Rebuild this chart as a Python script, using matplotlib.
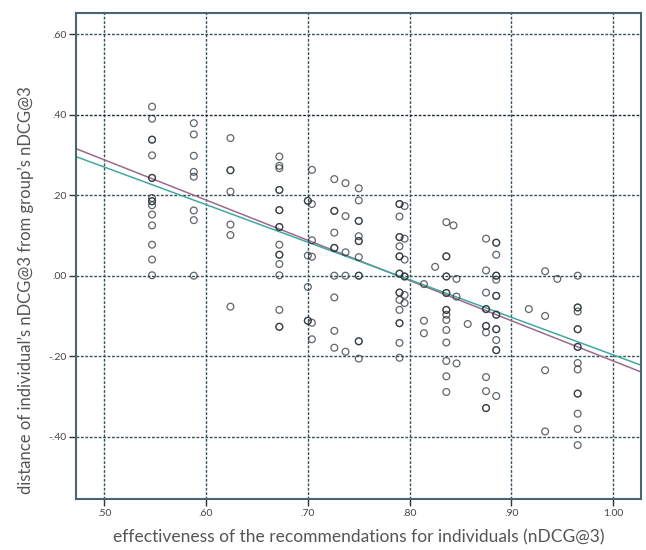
import matplotlib
matplotlib.use('Agg')
import matplotlib.pyplot as plt
import numpy as np

#-- Data: effectiveness (x) and distance from group's nDCG@3 (y), per x column
columns = {
    0.547: [0.420, 0.390, 0.338, 0.338, 0.299, 0.243, 0.243, 0.193, 0.185, 0.185,
            0.175, 0.152, 0.125, 0.077, 0.040, 0.001],
    0.588: [0.379, 0.351, 0.298, 0.258, 0.246, 0.162, 0.138, 0.000],
    0.624: [0.342, 0.262, 0.262, 0.209, 0.127, 0.101, -0.077],
    0.672: [0.296, 0.273, 0.267, 0.213, 0.213, 0.163, 0.163, 0.121, 0.121, 0.077,
            0.052, 0.052, 0.029, 0.001, -0.085, -0.127, -0.127],
    0.700: [0.186, 0.186, 0.050, -0.028, -0.112, -0.112],
    0.704: [0.263, 0.178, 0.088, 0.047, -0.117, -0.158],
    0.726: [0.240, 0.161, 0.161, 0.107, 0.069, 0.069, 0.000, -0.054, -0.137, -0.179],
    0.737: [0.230, 0.148, 0.058, 0.000, -0.189],
    0.750: [0.217, 0.187, 0.136, 0.136, 0.098, 0.086, 0.086, 0.046, 0.000, 0.000,
            -0.163, -0.163, -0.206],
    0.790: [0.178, 0.178, 0.147, 0.096, 0.096, 0.073, 0.048, 0.048, 0.005, 0.005,
            -0.042, -0.042, -0.060, -0.085, -0.118, -0.118, -0.167, -0.204],
    0.795: [0.173, 0.092, 0.040, -0.002, -0.002, -0.048, -0.068],
    0.814: [-0.021, -0.112, -0.143],
    0.825: [0.022],
    0.836: [0.133, 0.048, 0.048, -0.002, -0.002, -0.043, -0.043, -0.085, -0.085,
            -0.097, -0.110, -0.135, -0.166, -0.212, -0.250, -0.289],
    0.843: [0.125],
    0.846: [-0.008, -0.052, -0.218],
    0.857: [-0.120],
    0.875: [0.092, 0.013, -0.042, -0.083, -0.083, -0.125, -0.125, -0.141, -0.252,
            -0.287, -0.329, -0.329],
    0.885: [0.082, 0.082, 0.052, 0.000, 0.000, -0.010, -0.050, -0.050, -0.097, -0.097,
            -0.133, -0.133, -0.160, -0.185, -0.185, -0.299],
    0.917: [-0.083],
    0.933: [0.011, -0.100, -0.235, -0.387],
    0.945: [-0.008],
    0.965: [0.000, -0.079, -0.079, -0.089, -0.133, -0.133, -0.177, -0.177, -0.217,
            -0.233, -0.293, -0.293, -0.343, -0.381, -0.421],
}

#-- Fit lines (intercept, slope)
fit_purple = (0.788, -1.000)
fit_teal = (0.737, -0.934)

x_ticks = [0.5, 0.6, 0.7, 0.8, 0.9, 1.0]
x_ticklabels = ['.50', '.60', '.70', '.80', '.90', '1.00']
y_ticks = [0.6, 0.4, 0.2, 0.0, -0.2, -0.4]
y_ticklabels = ['.60', '.40', '.20', '.00', '-.20', '-.40']

xs = np.concatenate([[k] * len(v) for k, v in columns.items()])
ys = np.concatenate([v for v in columns.values()])

plt.rcParams['font.family'] = ['Lato', 'DejaVu Sans']

fig = plt.figure(figsize=(6.46, 5.5), dpi=100)
ax = fig.add_axes([0.1184, 0.0927, 0.9923 - 0.1184, 0.9758 - 0.0927])

frame_col = '#4a6470'
grid_col = '#34505e'

#-- Grid
for xv in x_ticks:
    ax.axvline(xv, color=grid_col, lw=1.0, ls=(0, (2, 1.2)), zorder=1)
for yv in y_ticks:
    ax.axhline(yv, color='#1e2a30' if yv == 0.4 else grid_col,
               lw=1.0, ls=(0, (2, 1.2)), zorder=1)

#-- Points
ax.scatter(xs, ys, s=24, facecolors='none', edgecolors='#2b3338',
           linewidths=0.9, alpha=0.75, zorder=3)

#-- Fit lines
ax.axline((0, fit_purple[0]), slope=fit_purple[1], color='#9a6b8e', lw=1.1, zorder=2)
ax.axline((0, fit_teal[0]), slope=fit_teal[1], color='#3fa9a0', lw=1.1, zorder=2)

ax.set_xlim(0.4728, 1.0272)
ax.set_ylim(-0.555, 0.652)

ax.set_xticks(x_ticks)
ax.set_xticklabels(x_ticklabels)
ax.set_yticks(y_ticks)
ax.set_yticklabels(y_ticklabels)
ax.tick_params(direction='out', length=5, width=1.0, color='#333333',
               labelsize=7.5, labelcolor='#444444', pad=2)

for sp in ax.spines.values():
    sp.set_color(frame_col)
    sp.set_linewidth(1.5)

ax.set_xlabel('effectiveness of the recommendations for individuals (nDCG@3)',
              fontsize=12.5, color='#555555', labelpad=8)
ax.set_ylabel("distance of individual\u2019s nDCG@3 from group\u2019s nDCG@3",
              fontsize=12, color='#555555')
ax.yaxis.set_label_coords(-0.075, 0.43)

plt.savefig('out.png', dpi=100)
